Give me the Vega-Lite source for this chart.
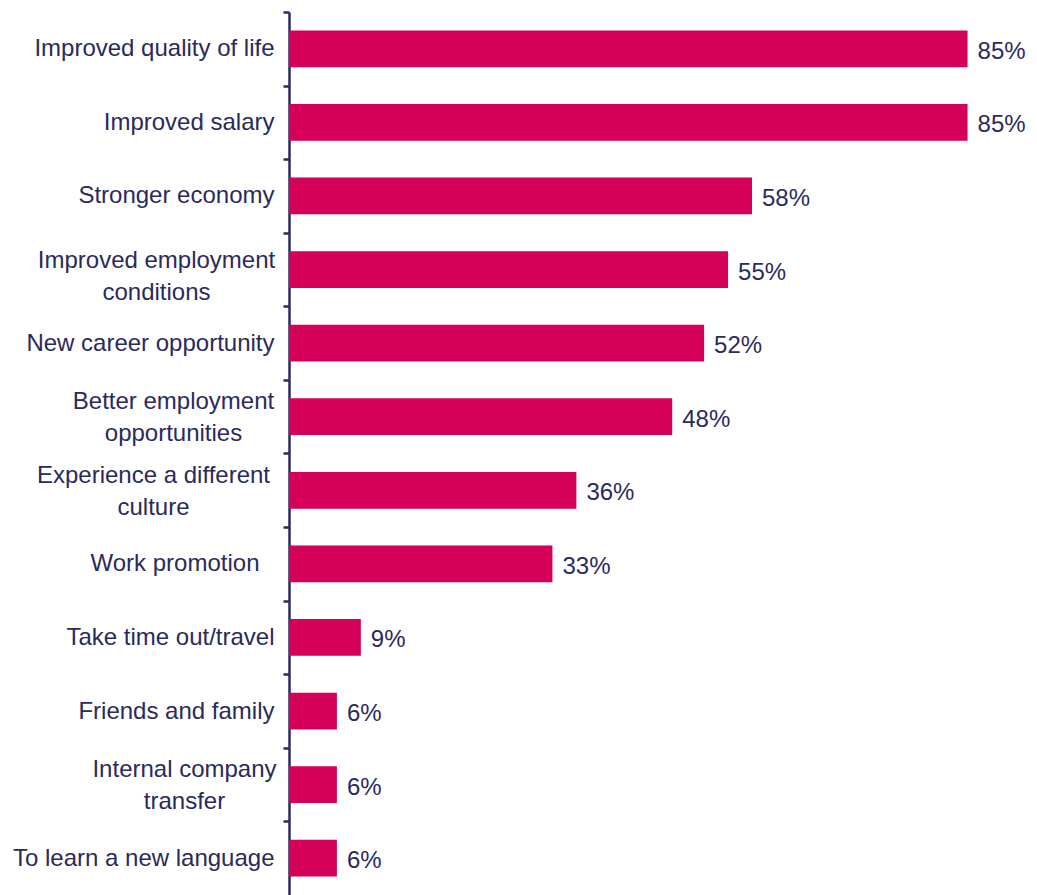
{
  "$schema": "https://vega.github.io/schema/vega-lite/v6.json",
  "width": 748,
  "height": 883,
  "autosize": {"type": "none"},
  "padding": {"left": 289, "top": 12, "right": 0, "bottom": 0},
  "background": "white",
  "config": {"view": {"stroke": null}, "font": "Liberation Sans"},
  "data": {
    "values": [
      {"reason": "Improved quality of life", "pct": 0.85},
      {"reason": "Improved salary", "pct": 0.85},
      {"reason": "Stronger economy", "pct": 0.58},
      {"reason": "Improved employment conditions", "pct": 0.55},
      {"reason": "New career opportunity", "pct": 0.52},
      {"reason": "Better employment opportunities", "pct": 0.48},
      {"reason": "Experience a different culture", "pct": 0.36},
      {"reason": "Work promotion", "pct": 0.33},
      {"reason": "Take time out/travel", "pct": 0.09},
      {"reason": "Friends and family", "pct": 0.06},
      {"reason": "Internal company transfer", "pct": 0.06},
      {"reason": "To learn a new language", "pct": 0.06}
    ]
  },
  "encoding": {
    "y": {
      "field": "reason",
      "type": "nominal",
      "sort": null,
      "title": null,
      "scale": {"paddingInner": 0.5, "paddingOuter": 0.25},
      "axis": {
        "domainColor": "#2B2A5C",
        "domainWidth": 2.5,
        "tickColor": "#2B2A5C",
        "tickWidth": 2.5,
        "tickSize": 6,
        "tickOffset": -36.8,
        "labelFontSize": 24,
        "labelColor": "#2B2A5C",
        "labelFont": "Liberation Sans",
        "labelLimit": 400,
        "labelLineHeight": 32,
        "labelExpr": "datum.value == 'Improved employment conditions' ? ['Improved employment', 'conditions'] : datum.value == 'Better employment opportunities' ? ['Better employment', 'opportunities'] : datum.value == 'Experience a different culture' ? ['Experience a different', 'culture'] : datum.value == 'Internal company transfer' ? ['Internal company', 'transfer'] : datum.label",
        "labelAlign": {
          "condition": {"test": "indexof(['Improved employment conditions', 'Better employment opportunities', 'Experience a different culture', 'Internal company transfer'], datum.value) >= 0", "value": "center"},
          "value": "right"
        },
        "labelOffset": {
          "condition": [
            {"test": "datum.value == 'Improved employment conditions'", "value": 27.8},
            {"test": "indexof(['Better employment opportunities', 'Experience a different culture', 'Internal company transfer'], datum.value) >= 0", "value": 21.8}
          ],
          "value": 36.8
        },
        "labelPadding": {
          "condition": [
            {"test": "datum.value == 'Improved employment conditions'", "value": 127},
            {"test": "datum.value == 'Better employment opportunities'", "value": 110},
            {"test": "datum.value == 'Experience a different culture'", "value": 130},
            {"test": "datum.value == 'Internal company transfer'", "value": 99},
            {"test": "datum.value == 'Work promotion'", "value": 24}
          ],
          "value": 9
        }
      }
    },
    "x": {
      "field": "pct",
      "type": "quantitative",
      "scale": {"domain": [0, 0.937], "nice": false},
      "axis": null
    }
  },
  "layer": [
    {"mark": {"type": "bar", "color": "#D50057"}},
    {
      "mark": {"type": "text", "align": "left", "baseline": "middle", "dx": 10, "dy": 3, "fontSize": 24, "color": "#2B2A5C", "font": "Liberation Sans"},
      "encoding": {"text": {"field": "pct", "type": "quantitative", "format": ".0%"}}
    }
  ]
}
